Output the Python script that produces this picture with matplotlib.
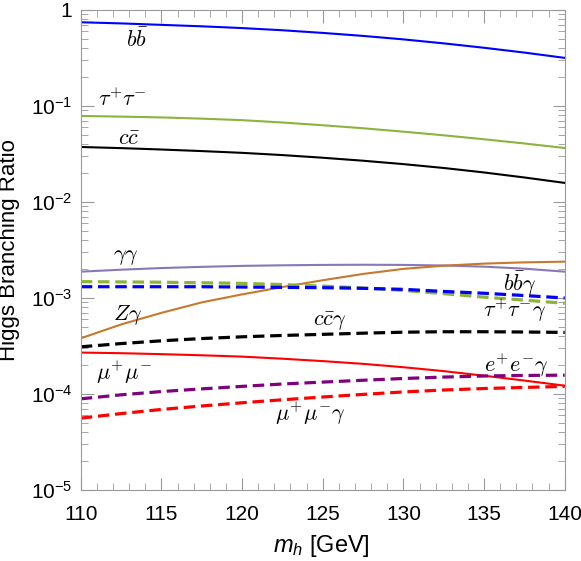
import matplotlib
matplotlib.use('Agg')
import matplotlib.pyplot as plt
import numpy as np
from matplotlib.ticker import LogLocator, MultipleLocator, FixedLocator

plt.rcParams['font.family'] = ['Liberation Sans', 'DejaVu Sans']
plt.rcParams['mathtext.fontset'] = 'custom'
plt.rcParams['mathtext.rm'] = 'Liberation Sans'
plt.rcParams['mathtext.it'] = 'Liberation Sans:italic'
plt.rcParams['mathtext.bf'] = 'Liberation Sans:bold'

mh = [110, 112.5, 115, 117.5, 120, 122.5, 125, 127.5, 130, 132.5, 135, 137.5, 140]

# solid channels
br_bb = [0.745, 0.725, 0.700, 0.676, 0.648, 0.615, 0.577, 0.537, 0.494, 0.449, 0.404, 0.360, 0.317]
br_tautau = [0.0787, 0.0775, 0.0760, 0.0738, 0.0712, 0.0673, 0.0630, 0.0586, 0.0540, 0.0495, 0.0450, 0.0407, 0.0365]
br_cc = [0.0374, 0.0364, 0.0352, 0.0339, 0.0325, 0.0308, 0.0289, 0.0269, 0.0248, 0.0226, 0.0203, 0.0180, 0.0158]
br_gaga = [1.88e-3, 1.97e-3, 2.05e-3, 2.11e-3, 2.16e-3, 2.19e-3, 2.21e-3, 2.22e-3, 2.21e-3, 2.18e-3, 2.12e-3, 2.02e-3, 1.88e-3]
br_zga = [3.8e-4, 5.3e-4, 7.0e-4, 9.0e-4, 1.09e-3, 1.30e-3, 1.53e-3, 1.78e-3, 2.01e-3, 2.17e-3, 2.28e-3, 2.35e-3, 2.39e-3]
br_mumu = [2.70e-4, 2.66e-4, 2.60e-4, 2.53e-4, 2.45e-4, 2.33e-4, 2.20e-4, 2.06e-4, 1.90e-4, 1.73e-4, 1.55e-4, 1.38e-4, 1.22e-4]

# radiative (dashed) channels
br_bbga = [1.31e-3, 1.31e-3, 1.31e-3, 1.31e-3, 1.30e-3, 1.29e-3, 1.28e-3, 1.26e-3, 1.23e-3, 1.17e-3, 1.12e-3, 1.06e-3, 1.00e-3]
br_tautauga = [1.48e-3, 1.47e-3, 1.46e-3, 1.44e-3, 1.42e-3, 1.38e-3, 1.33e-3, 1.27e-3, 1.20e-3, 1.11e-3, 1.02e-3, 0.95e-3, 0.88e-3]
br_ccga = [3.10e-4, 3.35e-4, 3.58e-4, 3.78e-4, 3.94e-4, 4.07e-4, 4.18e-4, 4.30e-4, 4.40e-4, 4.45e-4, 4.45e-4, 4.42e-4, 4.38e-4]
br_eega = [8.9e-5, 9.8e-5, 1.06e-4, 1.13e-4, 1.20e-4, 1.27e-4, 1.33e-4, 1.39e-4, 1.45e-4, 1.50e-4, 1.54e-4, 1.56e-4, 1.57e-4]
br_mumuga = [5.6e-5, 6.25e-5, 6.9e-5, 7.5e-5, 8.1e-5, 8.7e-5, 9.3e-5, 9.9e-5, 1.05e-4, 1.10e-4, 1.14e-4, 1.17e-4, 1.20e-4]

fig = plt.figure(figsize=(5.81, 5.61), dpi=100)
ax = fig.add_axes([0.139, 0.1266, 0.833, 0.8556])

ax.plot(mh, br_bb, color='#0000ff', lw=1.5)
ax.plot(mh, br_tautau, color='#8cb43c', lw=1.5)
ax.plot(mh, br_cc, color='black', lw=1.5)
ax.plot(mh, br_gaga, color='#8878b8', lw=1.5)
ax.plot(mh, br_zga, color='#c8782c', lw=1.5)
ax.plot(mh, br_mumu, color='#ff0000', lw=1.5)

dash = (0, (3.6, 1.8))
ax.plot(mh, br_tautauga, color='#8cb43c', lw=2.3, ls=dash)
ax.plot(mh, br_bbga, color='#0000ff', lw=2.3, ls=dash)
ax.plot(mh, br_ccga, color='black', lw=2.3, ls=dash)
ax.plot(mh, br_eega, color='#800080', lw=2.3, ls=dash)
ax.plot(mh, br_mumuga, color='#ff0000', lw=2.3, ls=dash)

# curve labels in Computer Modern
lbl = dict(fontsize=16, ha='center', va='center', math_fontfamily='cm')
ax.text(113.5, 0.49, r'$b\bar{b}$', **lbl)
ax.text(112.6, 0.115, r'$\tau^{+}\tau^{-}$', **lbl)
ax.text(113.0, 0.045, r'$c\bar{c}$', **lbl)
ax.text(112.8, 0.0027, r'$\gamma\gamma$', **lbl)
ax.text(112.9, 6.6e-4, r'$Z\gamma$', **lbl)
ax.text(112.7, 1.7e-4, r'$\mu^{+}\mu^{-}$', **lbl)
ax.text(125.4, 5.6e-4, r'$c\bar{c}\gamma$', **lbl)
ax.text(137.2, 1.4e-3, r'$b\bar{b}\gamma$', **lbl)
ax.text(136.9, 7.5e-4, r'$\tau^{+}\tau^{-}\gamma$', **lbl)
ax.text(137.0, 2.0e-4, r'$e^{+}e^{-}\gamma$', **lbl)
ax.text(124.2, 6.3e-5, r'$\mu^{+}\mu^{-}\gamma$', **lbl)

ax.set_yscale('log')
ax.set_xlim(110, 140)
ax.set_ylim(1e-5, 1)
ax.xaxis.set_major_locator(MultipleLocator(5))
ax.xaxis.set_minor_locator(MultipleLocator(1))
ax.yaxis.set_major_locator(FixedLocator([1e-5, 1e-4, 1e-3, 1e-2, 1e-1, 1]))
ax.yaxis.set_minor_locator(LogLocator(base=10, subs=np.arange(2, 10)))
ax.set_yticklabels([r'$\mathregular{10^{-5}}$', r'$\mathregular{10^{-4}}$', r'$\mathregular{10^{-3}}$',
                    r'$\mathregular{10^{-2}}$', r'$\mathregular{10^{-1}}$', '1'])

for sp in ax.spines.values():
    sp.set_color('#999999')
ax.tick_params(which='both', direction='in', top=True, right=True, color='#999999',
               labelsize=15, labelcolor='black')
ax.tick_params(which='major', length=9)
ax.tick_params(which='minor', length=5)
ax.tick_params(axis='x', which='both', pad=11)
ax.tick_params(axis='y', which='both', pad=6)

ax.set_xlabel(r'$m_h$ [GeV]', fontsize=17)
ax.set_ylabel('Higgs Branching Ratio', fontsize=16)
ax.xaxis.set_label_coords(0.497, -0.09)
ax.yaxis.set_label_coords(-0.125, 0.5)

fig.savefig('out.png', dpi=100)
